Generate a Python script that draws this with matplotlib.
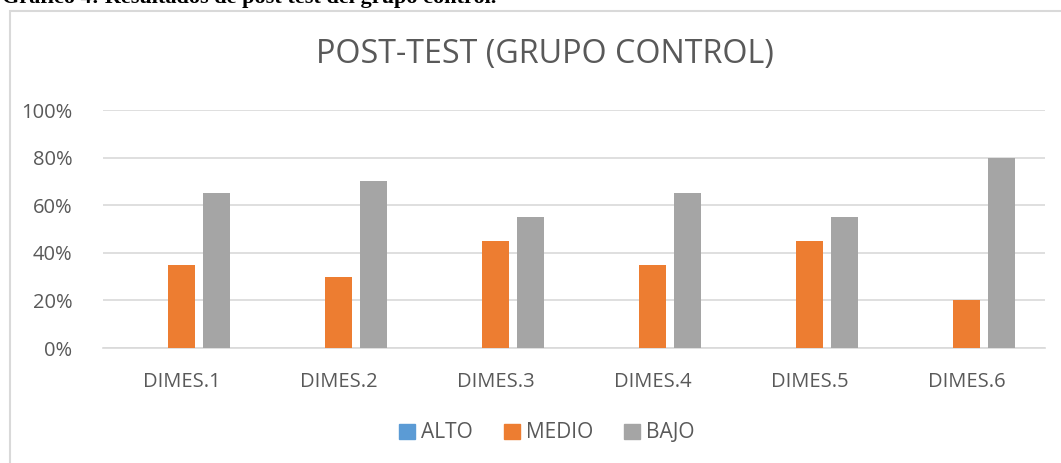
import numpy as np
import matplotlib.pyplot as plt
from matplotlib.patches import Rectangle, Patch

categorias = ["DIMES.1", "DIMES.2", "DIMES.3", "DIMES.4", "DIMES.5", "DIMES.6"]
alto = [0, 0, 0, 0, 0, 0]
medio = [35, 30, 45, 35, 45, 20]
bajo = [65, 70, 55, 65, 55, 80]
series = ["ALTO", "MEDIO", "BAJO"]
colores = ["#5B9BD5", "#ED7D31", "#A5A5A5"]

plt.rcParams["font.family"] = ["Open Sans", "DejaVu Sans"]

fig = plt.figure(figsize=(10.61, 4.63), dpi=100)
ax = fig.add_axes([103 / 1061, (463 - 348) / 463, (1045 - 103) / 1061, (348 - 110) / 463])

x = np.arange(len(categorias))
ancho = 0.172
paso = 0.223
for i, (vals, color) in enumerate(zip([alto, medio, bajo], colores)):
    ax.bar(x + (i - 1) * paso, vals, width=ancho, color=color, zorder=3)

ax.set_xlim(-0.5, len(categorias) - 0.5)
ax.set_ylim(0, 100)
ax.set_yticks(range(0, 101, 20))
ax.set_yticklabels([f"{v}%" for v in range(0, 101, 20)])
ax.set_xticks(x)
ax.set_xticklabels(categorias)
ax.tick_params(axis="both", length=0, labelsize=14.5, labelcolor="#595959")
ax.tick_params(axis="x", pad=17)
ax.tick_params(axis="y", pad=22)
ax.grid(axis="y", color="#D9D9D9", linewidth=1.2, zorder=0)
for lado in ["top", "right", "left"]:
    ax.spines[lado].set_visible(False)
ax.spines["bottom"].set_color("#D9D9D9")
ax.spines["bottom"].set_linewidth(1.2)

fig.text(545 / 1061, 1 - 54 / 463, "POST-TEST (GRUPO CONTROL)", ha="center", va="center",
         fontsize=23.2, color="#595959")

# marco del gráfico
fig.patches.append(Rectangle((10 / 1061, -0.1), 1.2, (463 - 11) / 463 + 0.1,
                             transform=fig.transFigure, fill=False,
                             edgecolor="#D9D9D9", linewidth=1.5))

# pie de título (recortado arriba, como en la imagen original)
fig.text(2 / 1061, 1 - 3 / 463, "Gráfico 4: Resultados de post test del grupo control.",
         ha="left", va="baseline", fontsize=16, fontweight="bold",
         family="Liberation Serif", color="black")

handles = [Patch(color=c) for c in colores]
fig.legend(handles, series, loc="center", bbox_to_anchor=(547 / 1061, 1 - 433 / 463),
           ncol=3, frameon=False, fontsize=15, labelcolor="#595959",
           handlelength=0.75, handleheight=0.75, handletextpad=0.3, columnspacing=1.5)

fig.savefig("out.png", dpi=100)
